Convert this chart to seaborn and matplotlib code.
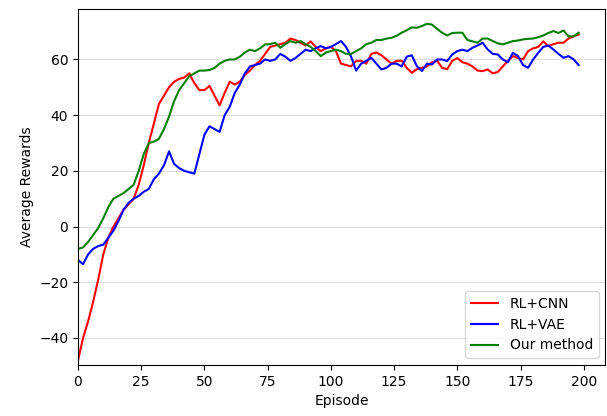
import numpy as np
import pandas as pd
import matplotlib
matplotlib.use("Agg")
import matplotlib.pyplot as plt
import seaborn as sns

episodes = list(range(0, 200, 2))

rl_cnn = [-48, -40, -34, -27, -19, -10, -4, 0, 3, 6,
          8, 10, 15, 22, 30, 37, 44, 47, 50, 52,
          53, 53.5, 55, 51.5, 49, 49, 50.5, 47, 43.5, 48,
          52, 51, 52, 54.5, 56, 58, 59.5, 62, 64.5, 65,
          65.5, 66, 67.5, 67, 66, 65, 66.5, 64.5, 63, 64,
          64.5, 63, 58.5, 58, 57.5, 59.5, 59.5, 58.5, 62, 62.5,
          61.5, 60, 58.5, 59.5, 59.5, 57, 55.2, 56.5, 57, 57.5,
          59, 59.5, 57, 56.5, 59.5, 60.5, 59, 58.5, 57.5, 56,
          55.8, 56.4, 55, 55.5, 57.5, 59.5, 61.2, 60.5, 60, 63,
          64, 64.5, 66.5, 64.8, 65.5, 66, 66, 67.5, 68.3, 69]

rl_vae = [-12, -13.5, -10, -8, -7, -6.5, -4, -1.5, 2, 6,
          8.5, 10, 11, 12.5, 13.5, 17, 19, 22, 27, 22.5,
          21, 20, 19.5, 19, 26, 33, 36, 35, 34, 40,
          43, 48, 51, 55, 57.5, 58, 58.5, 60, 59.5, 60,
          62, 61, 59.5, 60.5, 62, 63.5, 63, 64, 64.8, 64,
          64.5, 65.5, 66.6, 64.5, 61, 56, 58.5, 59.5, 60.6, 58.5,
          56.4, 57, 58.5, 58.5, 57.5, 61, 61.5, 57.6, 55.8, 58.5,
          58.2, 60, 60, 59.4, 61.8, 63, 63.5, 63, 64.2, 65,
          66, 63.6, 62, 61.8, 60, 59, 62.4, 61.2, 58, 57,
          60, 62.4, 64.5, 65, 63.6, 62, 60.6, 61.2, 60, 58]

our_method = [-8, -7.5, -5.5, -3, -0.5, 3, 7, 10, 11, 12,
              13.5, 15, 20, 26, 30, 30.5, 31.5, 35, 39.5, 45,
              49, 51.5, 54, 55, 56, 56, 56.2, 57, 58.5, 59.5,
              60, 60, 61, 62.5, 63.5, 63, 64, 65.4, 65.5, 66,
              64.2, 65.5, 66.6, 66, 66.6, 65.5, 64.5, 63, 61.2, 62.5,
              63, 63.5, 63, 62, 62, 63, 64, 65.5, 66, 67,
              67, 67.5, 67.8, 68.5, 69.6, 70.5, 71.5, 71.4, 72, 72.8,
              72.5, 71, 69.6, 68.6, 69.5, 69.6, 69.6, 67, 66.5, 66,
              67.5, 67.5, 66.6, 65.8, 65.4, 66, 66.6, 66.8, 67.2, 67.4,
              67.5, 68, 68.6, 69.5, 70.2, 69.5, 70.4, 68.3, 68.3, 69.6]

labels = ["RL+CNN", "RL+VAE", "Our method"]
colors = ["red", "blue", "green"]

df = pd.concat([
    pd.DataFrame({"Episode": episodes, "Average Rewards": vals, "Method": lab})
    for vals, lab in zip([rl_cnn, rl_vae, our_method], labels)
], ignore_index=True)

fig = plt.figure(figsize=(6.07, 4.16), dpi=100)
ax = fig.add_axes([0.1285, 0.1226, 0.869, 0.855])
sns.lineplot(data=df, x="Episode", y="Average Rewards", hue="Method",
             hue_order=labels, palette=dict(zip(labels, colors)),
             linewidth=1.5, ax=ax)
ax.set_xlim(0, 208.6)
ax.set_ylim(-49.7, 78)
ax.set_xticks(range(0, 201, 25))
ax.set_yticks(range(-40, 61, 20))
ax.yaxis.grid(True, color="#dddddd", linewidth=0.8)
ax.set_axisbelow(True)
for s in ax.spines.values():
    s.set_color("black")
ax.legend(loc="lower right", fontsize=10, title=None)
fig.savefig("out.png", dpi=100)
